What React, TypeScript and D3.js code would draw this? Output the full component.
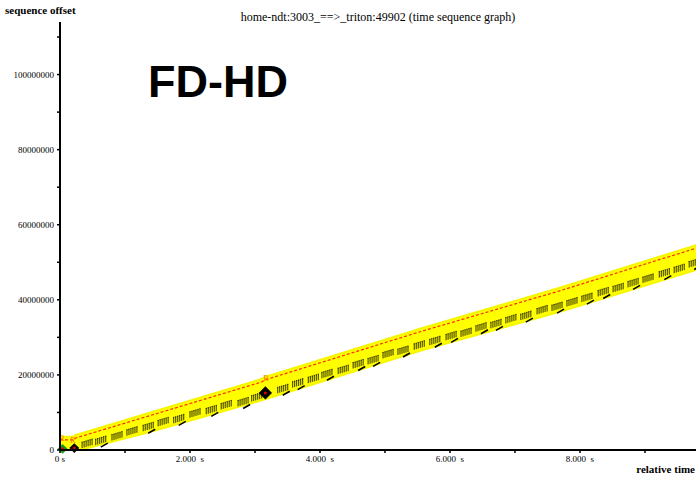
import React from 'react';
import * as d3 from 'd3';

// time (s) / sequence offset (bytes)
const windowTimes = [0, 0.2, 0.24, 3.1, 3.16, 5.54, 7.69, 9.85];
const windowSeqs = [2.7e6, 2.7e6, 3.2e6, 18.1e6, 18.7e6, 31.5e6, 42.4e6, 54.1e6];

const ackTimes = [0, 0.31, 1.38, 3.08, 3.16, 3.38, 5.54, 7.69, 9.85];
const ackSeqs = [0, 0, 4.8e6, 13.1e6, 13.6e6, 14.7e6, 26.4e6, 36.8e6, 48.3e6];

const burstTimes = [
  0.34, 0.55, 0.8, 1.03, 1.28, 1.51, 1.75, 2.0, 2.25, 2.48, 2.74, 2.95,
  3.35, 3.58, 3.82, 4.03, 4.28, 4.51, 4.74, 4.97, 5.2, 5.45, 5.69, 5.94,
  6.17, 6.4, 6.63, 6.86, 7.09, 7.34, 7.57, 7.8, 8.03, 8.28, 8.51, 8.74,
  8.97, 9.22, 9.45, 9.68,
];
const burstSeqs = [
  2.1, 2.9, 4.1, 5.4, 6.6, 7.9, 8.7, 10.2, 11.1, 12.4, 13.2, 14.5,
  16.7, 18.2, 19.4, 20.7, 21.8, 23.3, 24.4, 26.0, 26.9, 28.3, 29.5, 30.8,
  31.7, 33.1, 34.0, 35.3, 36.2, 37.7, 38.6, 39.8, 41.0, 42.5, 43.6, 44.9,
  46.1, 47.5, 48.7, 50.2,
].map((v) => v * 1e6);
const burstAck = [
  0, 1, 0, 0, 1, 0, 1, 0, 1, 0, 1, 0, 1, 1, 0, 1, 0, 1, 1, 0,
  1, 0, 1, 1, 0, 1, 1, 0, 1, 0, 1, 0, 1, 1, 0, 1, 0, 1, 0, 1,
];

const retransTimes = [0.03, 0.2, 3.17];
const retransSeqs = [3.2e6, 2.7e6, 19.3e6];

const dupTimes = [0.04, 0.22, 3.16];
const dupSeqs = [0.3e6, 0.5e6, 15.2e6];
const dupColors = ['#1a9a1a', '#000', '#000'];

const seqMajor = [0, 20e6, 40e6, 60e6, 80e6, 100e6];
const seqMinor = [10e6, 30e6, 50e6, 70e6, 90e6, 110e6];
const timeMajor = [0, 2, 4, 6, 8];
const timeMinor = [1, 3, 5, 7, 9];

const W = 696;
const H = 479;
const serif = '"Liberation Serif", "DejaVu Serif", serif';

export default function App() {
  const x = d3.scaleLinear().domain([0, 9.785]).range([60, 696]);
  const y = d3.scaleLinear().domain([0, 114e6]).range([450, 22]);

  const winAt = d3.scaleLinear().domain(windowTimes).range(windowSeqs);
  const ackAt = d3.scaleLinear().domain(ackTimes).range(ackSeqs);

  const win = windowTimes.map((t, i) => [t, windowSeqs[i]] as [number, number]);
  const bandTimes = Array.from(new Set([...windowTimes, ...ackTimes])).sort((a, b) => a - b);

  const band = d3
    .area<number>()
    .x((t) => x(t))
    .y0((t) => y(ackAt(t)))
    .y1((t) => y(winAt(t)) - 3);

  const line = d3
    .line<[number, number]>()
    .x((d) => x(d[0]))
    .y((d) => y(d[1]));

  const fmtTime = (v: number) => (v === 0 ? '0 s' : `${v.toFixed(3)}  s`);

  return (
    <svg
      width={W}
      height={H}
      style={{ position: 'absolute', left: 0, top: 0, background: '#fff' }}
    >
      <rect width={W} height={H} fill="#fff" />

      <text x={5} y={14} fontFamily={serif} fontSize={11} fontWeight="bold">
        sequence offset
      </text>
      <text x={378} y={21} fontFamily={serif} fontSize={12} textAnchor="middle">
        home-ndt:3003_==&gt;_triton:49902 (time sequence graph)
      </text>
      <text
        x={148}
        y={97}
        fontFamily='"Liberation Sans", Arial, sans-serif'
        fontSize={45}
        fontWeight="bold"
      >
        FD-HD
      </text>

      {/* window band */}
      <path d={band(bandTimes) ?? ''} fill="#ffff00" stroke="#f6f600" strokeWidth={2} />
      <path
        d={line(win) ?? ''}
        fill="none"
        stroke="#ff2a00"
        strokeWidth={1.2}
        strokeDasharray="3 2"
      />

      {/* data segment bursts */}
      {burstTimes.map((t, i) => {
        const cx = x(t);
        const cy = y(burstSeqs[i]);
        return (
          <g key={i} stroke="#000">
            {d3.range(6).map((k) => {
              const bx = cx + k * 2;
              const by = cy - k * 0.6;
              return (
                <g key={k} strokeWidth={0.8}>
                  <line x1={bx} x2={bx} y1={by} y2={by + 6} />
                  <line x1={bx - 0.6} x2={bx + 0.6} y1={by} y2={by} />
                </g>
              );
            })}
            {burstAck[i] === 1 && (
              <line
                x1={cx + 5}
                y1={cy + 8}
                x2={cx + 12}
                y2={cy + 4}
                strokeWidth={1.6}
              />
            )}
          </g>
        );
      })}

      {/* duplicate ack diamonds */}
      {dupTimes.map((t, i) => (
        <g key={i} transform={`translate(${x(t)},${y(dupSeqs[i])})`}>
          <path
            d={d3.symbol(d3.symbolSquare, i === 2 ? 70 : 36)() ?? ''}
            transform="rotate(45)"
            fill={dupColors[i]}
            stroke={dupColors[i]}
          />
          <circle r={1.5} fill="#e00000" />
        </g>
      ))}

      {/* retransmit markers */}
      {retransTimes.map((t, i) => (
        <text
          key={i}
          x={x(t)}
          y={y(retransSeqs[i]) + 3}
          fontFamily={serif}
          fontSize={8}
          fill="#ff7a00"
          textAnchor="middle"
        >
          R
        </text>
      ))}

      {/* axes */}
      <line x1={60} x2={60} y1={y(114e6)} y2={451} stroke="#000" strokeWidth={2} />
      <line x1={59} x2={W} y1={450} y2={450} stroke="#000" strokeWidth={2} />

      {seqMajor.map((v) => (
        <g key={v}>
          <line x1={57} x2={60} y1={y(v)} y2={y(v)} stroke="#000" strokeWidth={1.5} />
          <text
            x={54}
            y={y(v) + 3}
            fontFamily={serif}
            fontSize={9}
            textAnchor="end"
          >
            {v}
          </text>
        </g>
      ))}
      {seqMinor.map((v) => (
        <line key={v} x1={57} x2={60} y1={y(v)} y2={y(v)} stroke="#000" strokeWidth={1.5} />
      ))}

      {timeMajor.map((v) => (
        <g key={v}>
          <line x1={x(v)} x2={x(v)} y1={450} y2={453} stroke="#000" strokeWidth={1.5} />
          <text
            x={x(v)}
            y={462}
            fontFamily={serif}
            fontSize={9}
            textAnchor="middle"
            style={{ whiteSpace: 'pre' }}
          >
            {fmtTime(v)}
          </text>
        </g>
      ))}
      {timeMinor.map((v) => (
        <line key={v} x1={x(v)} x2={x(v)} y1={450} y2={453} stroke="#000" strokeWidth={1.5} />
      ))}

      <text
        x={695}
        y={473}
        fontFamily={serif}
        fontSize={11}
        fontWeight="bold"
        textAnchor="end"
      >
        relative time
      </text>
    </svg>
  );
}
